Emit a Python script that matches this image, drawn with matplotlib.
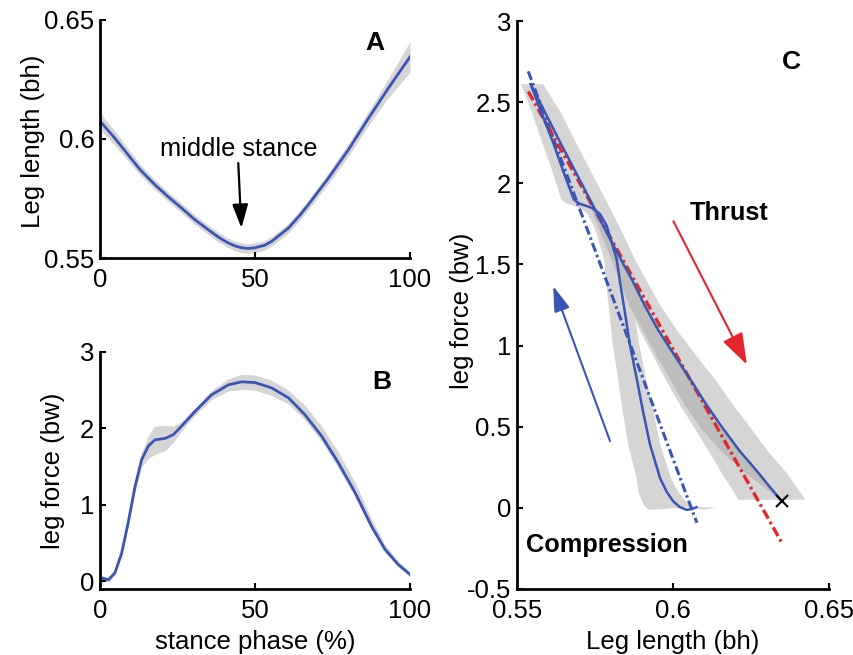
import numpy as np
import matplotlib
matplotlib.use('Agg')
import matplotlib.pyplot as plt

plt.rcParams['font.family'] = ['Liberation Sans', 'DejaVu Sans']
plt.rcParams['axes.unicode_minus'] = False

BLUE = '#3a55b4'
RED = '#e3262b'
GRAY = '#d5d5d5'
DARK = '#bdbdbd'

# ---------------- Panel A: leg length vs stance phase ----------------
phase_A = [0, 5, 9.1, 13, 17.7, 22, 26.3, 30.5, 34.9, 38.5, 41.4, 43.5, 45.7, 47.8,
           50, 53, 55.4, 60.8, 64.5, 67.2, 73.7, 80.1, 86.6, 93, 100]
length_A = [0.6075, 0.600, 0.5933, 0.587, 0.5808, 0.5757, 0.5710, 0.5662, 0.5619,
            0.5585, 0.5563, 0.5551, 0.5543, 0.5540, 0.5543, 0.5553, 0.5570, 0.5626,
            0.5680, 0.5724, 0.5836, 0.5954, 0.6087, 0.6213, 0.6345]
length_A_sd = [0.0035, 0.003, 0.0026, 0.0023, 0.0021, 0.002, 0.002, 0.002, 0.002,
               0.002, 0.002, 0.002, 0.002, 0.002, 0.002, 0.002, 0.002, 0.002, 0.002,
               0.0021, 0.0023, 0.0026, 0.003, 0.004, 0.0065]

# ---------------- Panel B: leg force vs stance phase ----------------
phase_B = [0, 2.7, 4.8, 7.0, 9.1, 11.3, 13.4, 15.6, 17.7, 21, 23.7, 26.3, 30.6, 36,
           41.4, 45.7, 50, 55.4, 60.8, 66.1, 71.5, 76.9, 82.3, 87.6, 91.9, 96.2, 100]
force_B = [0.05, 0.02, 0.11, 0.37, 0.77, 1.24, 1.59, 1.77, 1.85, 1.87, 1.92, 2.03,
           2.22, 2.44, 2.57, 2.61, 2.60, 2.53, 2.40, 2.18, 1.90, 1.55, 1.16, 0.72,
           0.42, 0.22, 0.09]
force_B_up = [0.03, 0.03, 0.03, 0.04, 0.05, 0.07, 0.09, 0.14, 0.18, 0.17, 0.11, 0.06,
              0.05, 0.06, 0.08, 0.1, 0.1, 0.1, 0.1, 0.12, 0.13, 0.14, 0.13, 0.1,
              0.06, 0.04, 0.03]
force_B_lo = [0.03, 0.03, 0.03, 0.04, 0.05, 0.07, 0.10, 0.16, 0.19, 0.16, 0.1, 0.06,
              0.05, 0.06, 0.08, 0.1, 0.1, 0.1, 0.08, 0.07, 0.07, 0.07, 0.06, 0.05,
              0.04, 0.03, 0.03]

# ---------------- Panel C: leg force vs leg length ----------------
comp_len = [0.6076, 0.6060, 0.6044, 0.6022, 0.6001, 0.5980, 0.5959, 0.5927, 0.5905,
            0.5884, 0.5863, 0.5847, 0.5831, 0.5820, 0.5804, 0.5788, 0.5767, 0.5745,
            0.5724, 0.5700, 0.5683, 0.5650, 0.5617, 0.5580, 0.5545]
comp_force = [0.004, -0.008, -0.012, 0.005, 0.041, 0.10, 0.184, 0.39, 0.59, 0.80, 1.00,
              1.20, 1.39, 1.534, 1.636, 1.74, 1.81, 1.845, 1.86, 1.875, 1.90, 2.07,
              2.25, 2.43, 2.61]
comp_band_left = [0.004, 0.009, 0.012, 0.011, 0.010, 0.009, 0.0075, 0.007, 0.0065,
                  0.006, 0.0055, 0.005, 0.0045, 0.004, 0.004, 0.004, 0.004, 0.004,
                  0.004, 0.004, 0.004, 0.0035, 0.0035, 0.003, 0.003]
comp_band_right = [0.006, 0.0055, 0.005, 0.0045, 0.004, 0.0037, 0.0035, 0.0033, 0.0033,
                   0.003, 0.003, 0.003, 0.003, 0.003, 0.003, 0.003, 0.003, 0.003,
                   0.003, 0.003, 0.003, 0.003, 0.003, 0.003, 0.003]

thr_len = [0.5545, 0.5590, 0.5640, 0.5690, 0.5740, 0.5790, 0.5830, 0.5868, 0.5912,
           0.5955, 0.6012, 0.6060, 0.6108, 0.6160, 0.6215, 0.6250, 0.6279, 0.6310,
           0.6345]
thr_force = [2.61, 2.44, 2.25, 2.065, 1.88, 1.69, 1.545, 1.41, 1.24, 1.09, 0.92, 0.78,
             0.634, 0.49, 0.348, 0.27, 0.204, 0.13, 0.05]
thr_band_left = [0.003, 0.003, 0.003, 0.003, 0.003, 0.003, 0.0035, 0.004, 0.005, 0.006,
                 0.007, 0.008, 0.0085, 0.009, 0.010, 0.011, 0.012, 0.0125, 0.0135]
thr_band_right = [0.004, 0.005, 0.005, 0.005, 0.005, 0.005, 0.0045, 0.0045, 0.005, 0.006,
                  0.007, 0.008, 0.0085, 0.009, 0.009, 0.009, 0.009, 0.0085, 0.008]
thr_dark_left = [0, 0, 0, 0, 0.001, 0.002, 0.003, 0.004, 0.005, 0.005, 0.006, 0.0065,
                 0.007, 0.007, 0.006, 0.005, 0.004, 0.002, 0]

comp_fit_len = [0.5537, 0.6077]
comp_fit_force = [2.69, -0.092]
thr_fit_len = [0.5537, 0.6349]
thr_fit_force = [2.566, -0.215]
toe_off_len = [0.635]
toe_off_force = [0.045]

# ---------------- figure ----------------
fig = plt.figure(figsize=(8.54, 6.55), dpi=100)
axA = fig.add_axes([0.1171, 0.6061, 0.3630, 0.3634])
axB = fig.add_axes([0.1171, 0.1008, 0.3630, 0.3618])
axC = fig.add_axes([0.6050, 0.1008, 0.3657, 0.8671])

TICK_FS = 18.5
LAB_FS = 18.5
TXT_FS = 18.3
LET_FS = 19


def style(ax):
    for s in ['top', 'right']:
        ax.spines[s].set_visible(False)
    for s in ['left', 'bottom']:
        ax.spines[s].set_linewidth(2.0)
    ax.tick_params(direction='in', length=4, width=1.5, labelsize=TICK_FS)
    ax.tick_params(axis='x', pad=7)
    ax.tick_params(axis='y', pad=4)


DASHDOT = (0, (3, 1.1, 0.8, 1.1))

# Panel A
pA = np.array(phase_A); lA = np.array(length_A); sA = np.array(length_A_sd)
axA.fill_between(pA, lA - sA, lA + sA, color=GRAY, lw=0, zorder=1)
axA.plot(pA, lA, color=BLUE, lw=2.0, zorder=2, solid_joinstyle='round')
axA.set_xlim(0, 100)
axA.set_ylim(0.55, 0.65)
axA.set_xticks([0, 50, 100])
axA.set_xticklabels(['0', '50', '100'])
axA.set_yticks([0.55, 0.6, 0.65])
axA.set_yticklabels(['0.55', '0.6', '0.65'])
style(axA)
axA.set_ylabel('Leg length (bh)', fontsize=LAB_FS)
axA.yaxis.set_label_coords(-0.177, 0.49)
axA.text(88.7, 0.6402, 'A', fontsize=LET_FS, fontweight='bold', ha='center', va='center')
axA.text(44.8, 0.5957, 'middle stance', fontsize=TXT_FS, ha='center', va='center')
axA.annotate('', xy=(45.6, 0.5626), xytext=(44.6, 0.5899),
             arrowprops=dict(arrowstyle='-|>,head_length=1.2,head_width=0.4',
                             color='k', lw=1.6, mutation_scale=12,
                             shrinkA=0, shrinkB=0))

# Panel B
pB = np.array(phase_B); fB = np.array(force_B)
axB.fill_between(pB, fB - np.array(force_B_lo), fB + np.array(force_B_up),
                 color=GRAY, lw=0, zorder=1)
axB.plot(pB, fB, color=BLUE, lw=2.0, zorder=2, solid_joinstyle='round')
axB.set_xlim(0, 100)
axB.set_ylim(-0.1, 3)
axB.set_xticks([0, 50, 100])
axB.set_xticklabels(['0', '50', '100'])
axB.set_yticks([0, 1, 2, 3])
axB.set_yticklabels(['0', '1', '2', '3'])
style(axB)
axB.set_ylabel('leg force (bw)', fontsize=LAB_FS)
axB.yaxis.set_label_coords(-0.113, 0.5)
axB.set_xlabel('stance phase (%)', fontsize=LAB_FS)
axB.xaxis.set_label_coords(0.5, -0.172)
axB.text(90.9, 2.61, 'B', fontsize=LET_FS, fontweight='bold', ha='center', va='center')

# Panel C
cx = np.array(comp_len); cy = np.array(comp_force)
cl = np.array(comp_band_left); cr = np.array(comp_band_right)
tx = np.array(thr_len); ty = np.array(thr_force)
tl = np.array(thr_band_left); tr = np.array(thr_band_right)
td = np.array(thr_dark_left)

axC.fill(np.r_[tx - tl, (tx + tr)[::-1]], np.r_[ty, ty[::-1]], color=GRAY, lw=0, zorder=1)
axC.fill(np.r_[cx - cl, (cx + cr)[::-1]], np.r_[cy, cy[::-1]], color=GRAY, lw=0, zorder=1)
axC.fill(np.r_[tx - td, tx[::-1]], np.r_[ty, ty[::-1]], color=DARK, lw=0, zorder=1.5)

axC.plot(comp_fit_len, comp_fit_force, color=BLUE, lw=2.2, linestyle=DASHDOT, zorder=3)
axC.plot(thr_fit_len, thr_fit_force, color=RED, lw=2.4, linestyle=DASHDOT, zorder=3)
axC.plot(cx, cy, color=BLUE, lw=1.8, zorder=4, solid_joinstyle='round')
axC.plot(tx, ty, color=BLUE, lw=1.8, zorder=4, solid_joinstyle='round')
axC.plot(toe_off_len, toe_off_force, 'x', color='k', ms=9, mew=1.5, zorder=5)

axC.annotate('', xy=(0.5617, 1.366), xytext=(0.5799, 0.411),
             arrowprops=dict(arrowstyle='-|>,head_length=1.1,head_width=0.35',
                             color=BLUE, lw=1.5, mutation_scale=14,
                             shrinkA=0, shrinkB=0))
axC.annotate('', xy=(0.6237, 0.883), xytext=(0.6002, 1.766),
             arrowprops=dict(arrowstyle='-|>,head_length=1.3,head_width=0.45',
                             color=RED, lw=1.5, mutation_scale=15,
                             shrinkA=0, shrinkB=0))

axC.text(0.618, 1.82, 'Thrust', fontsize=TXT_FS, fontweight='bold', ha='center', va='center')
axC.text(0.5788, -0.231, 'Compression', fontsize=TXT_FS, fontweight='bold',
         ha='center', va='center')
axC.text(0.638, 2.75, 'C', fontsize=LET_FS, fontweight='bold', ha='center', va='center')

axC.set_xlim(0.55, 0.65)
axC.set_ylim(-0.5, 3)
axC.set_xticks([0.55, 0.6, 0.65])
axC.set_xticklabels(['0.55', '0.6', '0.65'])
axC.set_yticks([-0.5, 0, 0.5, 1, 1.5, 2, 2.5, 3])
axC.set_yticklabels(['-0.5', '0', '0.5', '1', '1.5', '2', '2.5', '3'])
style(axC)
axC.set_ylabel('leg force (bw)', fontsize=LAB_FS)
axC.yaxis.set_label_coords(-0.137, 0.49)
axC.set_xlabel('Leg length (bh)', fontsize=LAB_FS)
axC.xaxis.set_label_coords(0.5, -0.072)

fig.savefig('out.png', dpi=100)
